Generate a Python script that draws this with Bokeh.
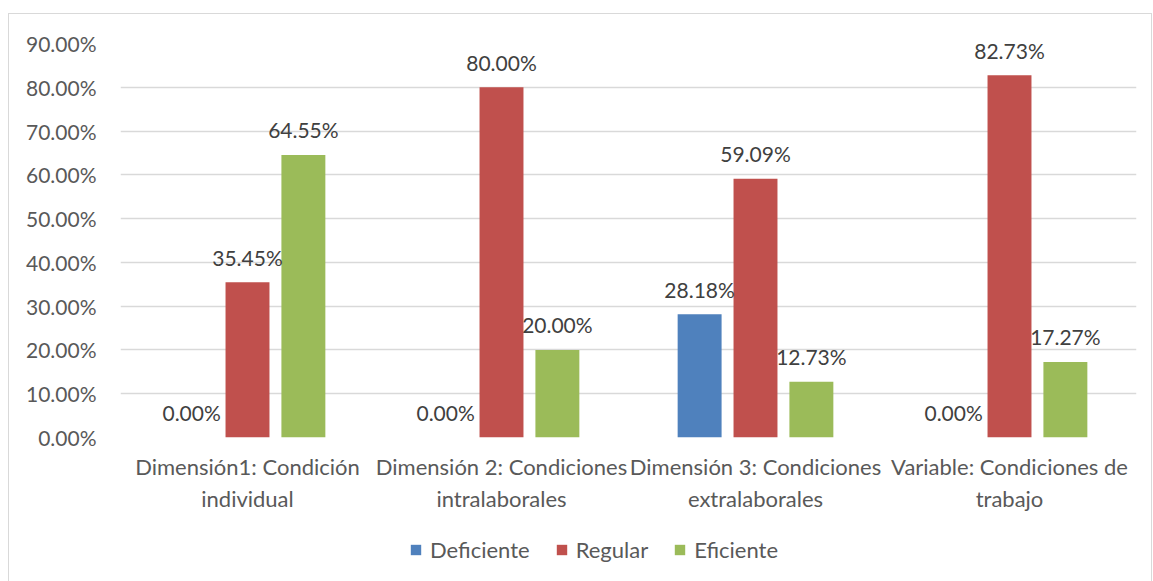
from bokeh.plotting import figure
from bokeh.models import (ColumnDataSource, FixedTicker, PrintfTickFormatter, LabelSet,
                          Legend, LegendItem, Range1d, LinearAxis)
from bokeh.layouts import column
from bokeh.core.properties import value
from bokeh.embed import file_html
from bokeh.resources import INLINE

categories = ["Dimensión1: Condición\nindividual",
              "Dimensión 2: Condiciones\nintralaborales",
              "Dimensión 3: Condiciones\nextralaborales",
              "Variable: Condiciones de\ntrabajo"]
series = ["Deficiente", "Regular", "Eficiente"]
deficiente = [0.00, 0.00, 28.18, 0.00]
regular = [35.45, 80.00, 59.09, 82.73]
eficiente = [64.55, 20.00, 12.73, 17.27]
colors = ["#4F81BD", "#C0504D", "#9BBB59"]
y_ticks = [0, 10, 20, 30, 40, 50, 60, 70, 80, 90]

FONT = "Lato"
FS = "21px"
FS_X = "22px"
bar_w = 0.173
offsets = [-0.22, 0.0, 0.22]

p = figure(frame_width=1016, frame_height=394, output_backend="svg", toolbar_location=None,
           x_range=Range1d(0, len(categories)), y_range=Range1d(0, 90),
           x_axis_location=None,
           min_border_left=111, min_border_right=15, min_border_top=29, min_border_bottom=90)
p.outline_line_color = None
p.background_fill_color = "white"
p.border_fill_color = "white"

for s, vals, col, off in zip(series, [deficiente, regular, eficiente], colors, offsets):
    src = ColumnDataSource(dict(x=[i + 0.5 + off for i in range(len(categories))],
                                top=vals,
                                lbl=["%.2f%%" % v for v in vals]))
    p.vbar(x="x", top="top", width=bar_w, source=src, fill_color=col, line_color=None)
    p.add_layout(LabelSet(x="x", y="top", text="lbl", source=src, y_offset=25,
                          text_align="center", text_baseline="middle",
                          text_font=value(FONT), text_font_size=value(FS),
                          text_color="#404040"))

p.yaxis.ticker = FixedTicker(ticks=y_ticks)
p.yaxis.formatter = PrintfTickFormatter(format="%.2f%%")
p.yaxis.axis_line_color = None
p.yaxis.major_tick_line_color = None
p.yaxis.minor_tick_line_color = None
p.yaxis.major_label_standoff = 18
p.yaxis.major_label_text_font = FONT
p.yaxis.major_label_text_font_size = FS
p.yaxis.major_label_text_color = "#595959"

centers = [i + 0.5 for i in range(len(categories))]
for line_no, standoff in [(0, 15), (1, 2)]:
    ax = LinearAxis(ticker=FixedTicker(ticks=centers),
                    major_label_overrides={c: cat.split("\n")[line_no]
                                           for c, cat in zip(centers, categories)},
                    axis_line_color=None, major_tick_line_color=None,
                    minor_tick_line_color=None, major_tick_out=0, major_tick_in=0,
                    major_label_standoff=standoff, major_label_text_font=FONT,
                    major_label_text_font_size=FS_X, major_label_text_color="#595959")
    p.add_layout(ax, "below")

p.xgrid.grid_line_color = None
p.ygrid.grid_line_color = "#d9d9d9"
p.ygrid.grid_line_width = 1.5

# legend strip
pl = figure(width=1142, height=60, output_backend="svg", toolbar_location=None,
            x_range=Range1d(0, 1), y_range=Range1d(0, 1),
            x_axis_location=None, y_axis_location=None,
            min_border_left=0, min_border_right=0, min_border_top=0, min_border_bottom=0)
pl.outline_line_color = None
pl.xgrid.grid_line_color = None
pl.ygrid.grid_line_color = None
pl.border_fill_color = "white"
legend_items = []
for s, col in zip(series, colors):
    r = pl.vbar(x=[0.5], top=[0.5], bottom=[0.5], width=0, fill_color=col, line_color=None)
    legend_items.append(LegendItem(label=s, renderers=[r]))
legend = Legend(items=legend_items, orientation="horizontal", location=(289, 24),
                spacing=25, glyph_width=13, glyph_height=13, label_standoff=8,
                label_text_font=FONT, label_text_font_size=FS_X, label_text_color="#595959",
                border_line_color=None, background_fill_alpha=0, margin=0, padding=0)
pl.add_layout(legend, "center")

lay = column(p, pl, spacing=0)
lay.styles = {"margin-left": "8px", "margin-top": "13px", "border": "1px solid #d9d9d9"}

open("out.html", "w").write(file_html(lay, INLINE))
